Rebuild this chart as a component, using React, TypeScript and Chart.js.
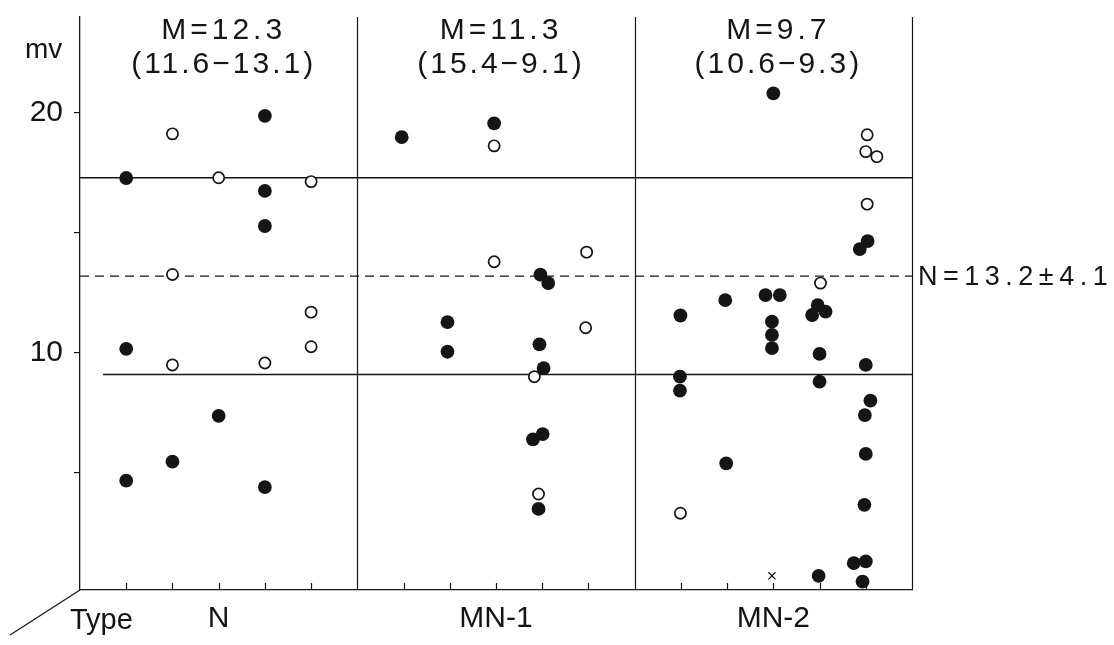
import React, { useEffect, useRef } from 'react';
import { Chart, registerables } from 'chart.js';

Chart.register(...registerables);

// ---------- data ----------
const categories = ['N', 'MN-1', 'MN-2'];
const categoryCenters = [3, 9, 15];
const subColumnTicks = [1, 2, 3, 4, 5, 7, 8, 9, 10, 11, 13, 14, 15, 16, 17];
const panelDividers = [6, 12, 18];
const meanLabels = ['M=12.3', 'M=11.3', 'M=9.7'];
const rangeLabels = ['(11.6−13.1)', '(15.4−9.1)', '(10.6−9.3)'];
const yTicks = [5, 10, 15, 20];
const yTickLabels = ['', '10', '', '20'];
const normalMean = 13.2;
const normalSD = 4.1;
const normalLabel = 'N=13.2±4.1';
const yUnit = 'mv';
const xAxisTitle = 'Type';

// [sub-column position, mv]
const filledN: number[][] = [
  [1, 17.29], [1, 10.17], [1, 4.68], [2, 5.47], [3, 7.38],
  [4, 19.88], [4, 16.75], [4, 15.29], [4, 4.41],
];
const openN: number[][] = [
  [2, 19.13], [2, 13.27], [2, 9.5], [3, 17.3], [4, 9.58],
  [5, 17.14], [5, 11.7], [5, 10.26],
];
const filledMN1: number[][] = [
  [6.96, 18.99], [8.96, 19.57], [9.96, 13.26], [10.13, 12.91], [7.95, 11.28],
  [7.95, 10.05], [9.94, 10.36], [10.03, 9.37], [9.8, 6.4], [10.01, 6.62], [9.92, 3.5],
];
const openMN1: number[][] = [
  [8.96, 18.63], [8.96, 13.8], [10.96, 14.2], [9.83, 9.01], [9.92, 4.12], [10.94, 11.05],
];
const filledMN2: number[][] = [
  [15, 20.82], [17.04, 14.66], [16.87, 14.33], [13.96, 12.2], [14.83, 12.41],
  [15.14, 12.41], [12.99, 11.56], [15.96, 11.99], [15.84, 11.58], [16.13, 11.72],
  [14.97, 11.3], [14.97, 10.75], [14.97, 10.2], [16, 9.96], [17, 9.5],
  [12.98, 9.01], [12.98, 8.43], [16, 8.8], [17.1, 8.01], [16.98, 7.41],
  [13.98, 5.4], [17, 5.79], [16.97, 3.67], [15.98, 0.71], [16.74, 1.24],
  [17, 1.31], [16.93, 0.47],
];
const openMN2: number[][] = [
  [17.03, 19.09], [17, 18.39], [17.24, 18.18], [17.03, 16.2], [16.02, 12.91], [12.99, 3.32],
];
const crossMN2: number[][] = [[14.97, 0.71]];

// ---------- style ----------
const INK = '#151515';
const FONT = "'Liberation Sans', Arial, sans-serif";

const toPts = (a: number[][]) => a.map(([x, y]) => ({ x, y }));

const setSpacing = (ctx: any, s: string) => {
  if ('letterSpacing' in ctx) ctx.letterSpacing = s;
};

const decorPlugin = {
  id: 'decor',
  beforeDatasetsDraw(chart: any) {
    const { ctx, chartArea, scales } = chart;
    const xs = scales.x;
    const ys = scales.y;
    ctx.save();
    ctx.strokeStyle = INK;
    ctx.lineWidth = 1.2;
    panelDividers.forEach((v) => {
      const px = Math.round(xs.getPixelForValue(v)) + 0.5;
      ctx.beginPath();
      ctx.moveTo(px, chartArea.top);
      ctx.lineTo(px, chartArea.bottom);
      ctx.stroke();
    });
    subColumnTicks.forEach((v) => {
      const px = Math.round(xs.getPixelForValue(v)) + 0.5;
      ctx.beginPath();
      ctx.moveTo(px, chartArea.bottom);
      ctx.lineTo(px, chartArea.bottom - 7);
      ctx.stroke();
    });
    ctx.lineWidth = 1.5;
    const yUp = ys.getPixelForValue(normalMean + normalSD);
    const yMid = ys.getPixelForValue(normalMean);
    const yLow = ys.getPixelForValue(normalMean - normalSD);
    ctx.beginPath();
    ctx.moveTo(xs.getPixelForValue(0), yUp);
    ctx.lineTo(xs.getPixelForValue(18), yUp);
    ctx.stroke();
    ctx.beginPath();
    ctx.moveTo(xs.getPixelForValue(0.5), yLow);
    ctx.lineTo(xs.getPixelForValue(18), yLow);
    ctx.stroke();
    ctx.setLineDash([9, 6]);
    ctx.lineWidth = 1.4;
    ctx.beginPath();
    ctx.moveTo(xs.getPixelForValue(0), yMid);
    ctx.lineTo(xs.getPixelForValue(18), yMid);
    ctx.stroke();
    ctx.setLineDash([]);
    ctx.restore();
  },
  afterDraw(chart: any) {
    const { ctx, chartArea, scales } = chart;
    const xs = scales.x;
    const ys = scales.y;
    ctx.save();
    ctx.fillStyle = INK;
    ctx.strokeStyle = INK;
    ctx.textAlign = 'center';
    ctx.textBaseline = 'alphabetic';
    ctx.font = `30px ${FONT}`;
    categoryCenters.forEach((c, i) => {
      const px = xs.getPixelForValue(c) + 5;
      setSpacing(ctx, '4px');
      ctx.fillText(meanLabels[i], px, chartArea.top + 22);
      setSpacing(ctx, '3px');
      ctx.fillText(rangeLabels[i], px, chartArea.top + 56);
    });
    setSpacing(ctx, '0px');
    ctx.textAlign = 'left';
    ctx.font = `28px ${FONT}`;
    ctx.fillText(yUnit, chartArea.left - 55, chartArea.top + 41);
    ctx.font = `27px ${FONT}`;
    setSpacing(ctx, '5.5px');
    ctx.textBaseline = 'middle';
    ctx.fillText(normalLabel, chartArea.right + 6, ys.getPixelForValue(normalMean) + 1);
    setSpacing(ctx, '0px');
    ctx.textBaseline = 'alphabetic';
    ctx.font = `29px ${FONT}`;
    ctx.fillText(xAxisTitle, chartArea.left - 10, chartArea.bottom + 39);
    ctx.lineWidth = 1.3;
    ctx.beginPath();
    ctx.moveTo(chartArea.left, chartArea.bottom);
    ctx.lineTo(chartArea.left - 70, chartArea.bottom + 45);
    ctx.stroke();
    ctx.restore();
  },
};

export default function App() {
  const ref = useRef<HTMLCanvasElement>(null);
  useEffect(() => {
    const chart = new Chart(ref.current as HTMLCanvasElement, {
      type: 'scatter',
      data: {
        datasets: [
          {
            label: 'open',
            data: toPts([...openN, ...openMN1, ...openMN2]),
            pointRadius: 5.6,
            pointBackgroundColor: '#ffffff',
            pointBorderColor: INK,
            pointBorderWidth: 1.7,
          },
          {
            label: 'cross',
            data: toPts(crossMN2),
            pointStyle: 'crossRot',
            pointRadius: 5,
            pointBorderColor: INK,
            pointBorderWidth: 1.3,
          },
          {
            label: 'filled',
            data: toPts([...filledN, ...filledMN1, ...filledMN2]),
            pointRadius: 6.9,
            pointBackgroundColor: INK,
            pointBorderColor: INK,
            pointBorderWidth: 0,
          },
        ],
      } as any,
      options: {
        responsive: false,
        animation: false,
        events: [],
        layout: { padding: { top: 17, right: 202, left: 0, bottom: 0 } },
        plugins: { legend: { display: false }, tooltip: { enabled: false } },
        scales: {
          x: {
            type: 'linear',
            min: 0,
            max: 18,
            afterBuildTicks: (s: any) => {
              s.ticks = categoryCenters.map((v) => ({ value: v }));
            },
            afterFit: (s: any) => {
              s.height = 55;
              s.paddingLeft = 0;
              s.paddingRight = 0;
            },
            ticks: {
              autoSkip: false,
              maxRotation: 0,
              padding: 11,
              color: INK,
              font: { family: FONT, size: 30 },
              callback: (v: any) => {
                const i = categoryCenters.indexOf(Number(v));
                return i >= 0 ? categories[i] : '';
              },
            },
            grid: { display: true, drawOnChartArea: false, drawTicks: false },
            border: { display: true, color: INK, width: 1.3 },
          },
          y: {
            type: 'linear',
            min: 0.12,
            max: 24,
            afterBuildTicks: (s: any) => {
              s.ticks = yTicks.map((v) => ({ value: v }));
            },
            afterFit: (s: any) => {
              s.width = 80;
              s.paddingTop = 0;
              s.paddingBottom = 0;
            },
            ticks: {
              padding: 11,
              color: INK,
              font: { family: FONT, size: 30 },
              callback: (v: any) => {
                const i = yTicks.indexOf(Number(v));
                return i >= 0 ? yTickLabels[i] : '';
              },
            },
            grid: { display: true, drawOnChartArea: false, drawTicks: true, tickLength: 6, color: INK, lineWidth: 1.2 },
            border: { display: true, color: INK, width: 1.3 },
          },
        },
      } as any,
      plugins: [decorPlugin],
    });
    return () => chart.destroy();
  }, []);
  return (
    <canvas
      ref={ref}
      width={1114}
      height={645}
      style={{ position: 'absolute', left: 0, top: 0, background: '#fff' }}
    />
  );
}
